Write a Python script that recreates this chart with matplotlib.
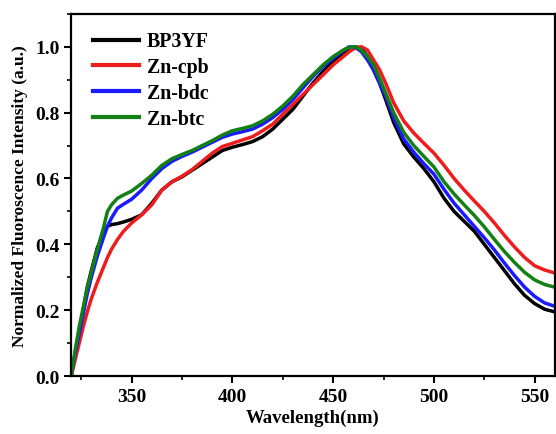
import numpy as np
import matplotlib.pyplot as plt
from matplotlib.ticker import MultipleLocator

wavelength = [320, 322, 324, 326, 328, 330, 333, 336, 338, 340, 343, 346, 350,
              355, 360, 365, 370, 375, 380, 385, 390, 395, 400, 405, 410, 415,
              420, 425, 430, 435, 440, 445, 450, 455, 458, 461, 464, 467, 470,
              473, 476, 480, 485, 490, 495, 500, 505, 510, 515, 520, 525, 530,
              535, 540, 545, 550, 555, 560]

bp3yf = [0.0, 0.07, 0.13, 0.2, 0.27, 0.32, 0.39, 0.43, 0.455, 0.46, 0.463, 0.468, 0.476,
         0.49, 0.525, 0.565, 0.59, 0.605, 0.625, 0.645, 0.665, 0.685, 0.695, 0.703, 0.712, 0.727,
         0.75, 0.78, 0.81, 0.85, 0.89, 0.925, 0.955, 0.98, 0.993, 1.0, 0.995, 0.97, 0.93,
         0.89, 0.84, 0.77, 0.705, 0.665, 0.63, 0.59, 0.54, 0.5, 0.47, 0.44, 0.4, 0.36,
         0.32, 0.28, 0.245, 0.22, 0.203, 0.195]

zn_cpb = [0.0, 0.05, 0.1, 0.15, 0.195, 0.235, 0.285, 0.33, 0.36, 0.385, 0.415, 0.44, 0.465,
          0.49, 0.52, 0.565, 0.59, 0.607, 0.627, 0.652, 0.677, 0.697, 0.707, 0.717, 0.727, 0.745,
          0.765, 0.795, 0.825, 0.855, 0.885, 0.915, 0.945, 0.97, 0.985, 0.997, 1.0, 0.99, 0.96,
          0.93, 0.89, 0.83, 0.775, 0.738, 0.707, 0.677, 0.64, 0.6, 0.565, 0.532, 0.5, 0.465,
          0.427, 0.392, 0.36, 0.335, 0.322, 0.313]

zn_bdc = [0.0, 0.07, 0.13, 0.19, 0.25, 0.3, 0.365, 0.42, 0.455, 0.48, 0.51, 0.522, 0.537,
          0.565, 0.6, 0.63, 0.652, 0.667, 0.68, 0.695, 0.71, 0.725, 0.735, 0.742, 0.75, 0.765,
          0.785, 0.81, 0.84, 0.875, 0.91, 0.94, 0.965, 0.988, 1.0, 0.998, 0.985, 0.96, 0.93,
          0.89, 0.85, 0.785, 0.72, 0.68, 0.645, 0.613, 0.567, 0.525, 0.49, 0.455, 0.42, 0.383,
          0.343, 0.305, 0.27, 0.242, 0.222, 0.212]

zn_btc = [0.0, 0.08, 0.15, 0.21, 0.27, 0.315, 0.385, 0.45, 0.5, 0.52, 0.54, 0.55, 0.562,
          0.585, 0.61, 0.64, 0.66, 0.673, 0.685, 0.7, 0.715, 0.732, 0.745, 0.752, 0.76, 0.775,
          0.795, 0.82, 0.85, 0.885, 0.915, 0.945, 0.97, 0.99, 0.998, 1.0, 0.99, 0.97, 0.945,
          0.905, 0.86, 0.8, 0.74, 0.7, 0.667, 0.635, 0.59, 0.553, 0.52, 0.488, 0.453, 0.415,
          0.378, 0.345, 0.315, 0.292, 0.278, 0.27]

series = [("BP3YF", bp3yf, "black"), ("Zn-cpb", zn_cpb, "#ee1c1c"),
          ("Zn-bdc", zn_bdc, "#1a1aff"), ("Zn-btc", zn_btc, "#138013")]

plt.rcParams['font.family'] = ['Liberation Serif', 'DejaVu Serif']
plt.rcParams['font.weight'] = 'bold'

fig = plt.figure(figsize=(5.56, 4.35), dpi=100)
ax = fig.add_axes([0.128, 0.133, 0.870, 0.833])

for name, vals, col in series:
	ax.plot(wavelength, vals, color=col, linewidth=2.5, label=name)

ax.set_xlim(320, 560)
ax.set_ylim(0, 1.1)
ax.xaxis.set_major_locator(MultipleLocator(50))
ax.xaxis.set_minor_locator(MultipleLocator(25))
ax.yaxis.set_major_locator(MultipleLocator(0.2))
ax.yaxis.set_minor_locator(MultipleLocator(0.1))
ax.yaxis.set_major_formatter(plt.FuncFormatter(lambda v, p: "%.1f" % v))
ax.tick_params(which='major', direction='out', length=5, width=1.5, labelsize=14)
ax.tick_params(which='minor', direction='out', length=3, width=1.2)
for s in ax.spines.values():
	s.set_linewidth(1.6)

ax.set_xlabel("Wavelength(nm)", fontsize=13.5, fontweight='bold', labelpad=3)
ax.set_ylabel("Normalized Fluoroscence Intensity (a.u.)", fontsize=12.5, fontweight='bold', labelpad=5)

# legend nudged right a bit, like the original
leg = ax.legend(loc='upper left', bbox_to_anchor=(0.013, 0.995), frameon=False,
                fontsize=14.3, handlelength=2.3, borderaxespad=0.4,
                labelspacing=0.3, handletextpad=0.4)
for h in leg.get_lines():
	h.set_linewidth(3)

fig.savefig("out.png", dpi=100)
